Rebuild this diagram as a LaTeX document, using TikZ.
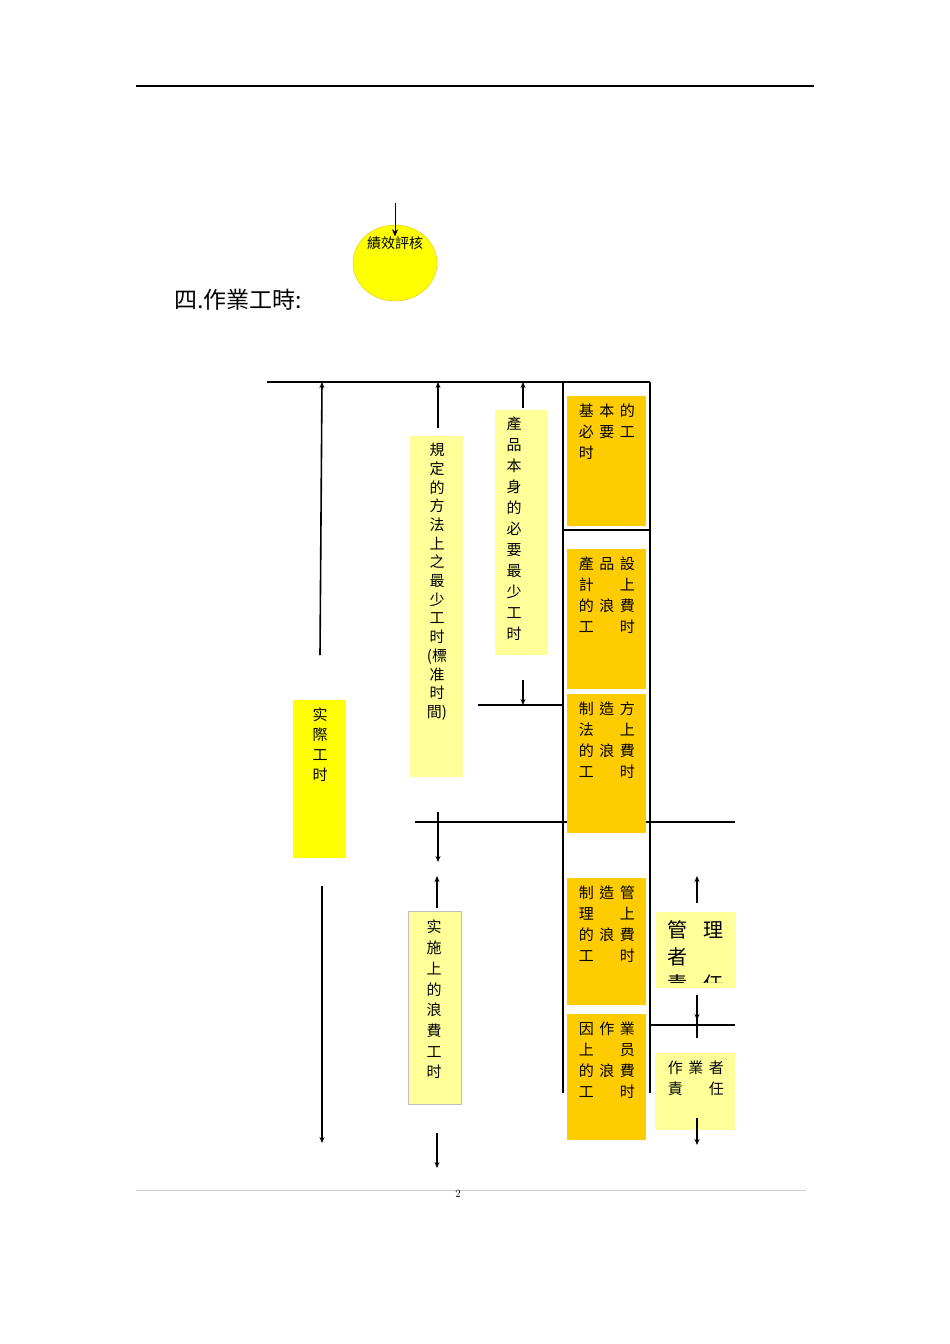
\documentclass[tikz,border=0pt]{standalone}
\usepackage{fontspec}
\newfontfamily\cjk{Noto Sans CJK TC}
\usetikzlibrary{arrows.meta,shapes.geometric}
\newcommand{\tc}[3]{\makebox[20.5pt]{#1}\makebox[20.5pt]{#2}\makebox[20.5pt]{#3}}
\tikzset{
  x=1pt,y=-1pt,
  orbox/.style={draw=none,fill={rgb,255:red,255;green,204;blue,0},anchor=north west,inner sep=0},
  lybox/.style={fill={rgb,255:red,255;green,255;blue,153},anchor=north west,inner sep=0},
  grid3/.style={anchor=north west,inner sep=0,align=left,font=\cjk\fontsize{15}{21}\selectfont},
  vtext/.style={anchor=north,inner sep=0,align=center,font=\cjk\fontsize{15}{#1}\selectfont},
  mline/.style={line width=2pt},
  arr/.style={line width=1.6pt,-{Stealth[length=6pt,width=5pt]}}
}
\begin{document}
\begin{tikzpicture}
\useasboundingbox (0,0) rectangle (950,1344);
\draw[line width=1.2pt] (136,86) -- (814,86);
\draw[gray!40,line width=0.8pt] (136,1190) -- (806,1190);
\node[font=\fontsize{11}{11}\selectfont] (pg) at (458,1194) {2};
% circle
\node[draw={rgb,255:red,220;green,200;blue,0},fill={rgb,255:red,255;green,255;blue,0},ellipse,minimum width=84,minimum height=76,inner sep=0] (circ) at (395,263) {};
\node[font=\cjk\fontsize{14}{14}\selectfont,inner sep=0] (ct) at (395,243) {績效評核};
\coordinate (ctop) at (395,203);
\draw[line width=0.6pt,-{Stealth[length=7pt,width=6pt]}] (ctop) -- (ct.north);
\node[font=\cjk\fontsize{23}{23}\selectfont,anchor=west,inner sep=0] (title) at (174,300) {四.作業工時:};
% frame lines
\coordinate (t0) at (267,382); \coordinate (t1) at (650,382);
\draw[mline] (t0) -- (t1);
\draw[mline] (563,382) -- (563,1093);
\draw[mline] (650,382) -- (650,1093);
\draw[mline] (563,530) -- (650,530);
\draw[mline] (478,705) -- (563,705);
\draw[mline] (415,822) -- (735,822);
\draw[mline] (650,1025) -- (735,1025);
% boxes
\node[orbox,minimum width=79,minimum height=130] (b1) at (567,396) {};
\node[orbox,minimum width=79,minimum height=140] (b2) at (567,549) {};
\node[orbox,minimum width=79,minimum height=139] (b3) at (567,694) {};
\node[orbox,minimum width=79,minimum height=127] (b4) at (567,878) {};
\node[orbox,minimum width=79,minimum height=126] (b5) at (567,1014) {};
\node[grid3] at (576,404) {\tc{基}{本}{的}\\\tc{必}{要}{工}\\\tc{时}{}{}};
\node[grid3] at (576,557) {\tc{產}{品}{設}\\\tc{計}{}{上}\\\tc{的}{浪}{費}\\\tc{工}{}{时}};
\node[grid3] at (576,702) {\tc{制}{造}{方}\\\tc{法}{}{上}\\\tc{的}{浪}{費}\\\tc{工}{}{时}};
\node[grid3] at (576,886) {\tc{制}{造}{管}\\\tc{理}{}{上}\\\tc{的}{浪}{費}\\\tc{工}{}{时}};
\node[grid3] at (576,1022) {\tc{因}{作}{業}\\\tc{上}{}{员}\\\tc{的}{浪}{費}\\\tc{工}{}{时}};
\node[lybox,minimum width=80,minimum height=76] (mg) at (656,912) {};
\begin{scope}
\clip (656,912) rectangle (736,982);
\node[anchor=north west,inner sep=0,align=left,font=\cjk\fontsize{20}{27}\selectfont] at (667,920) {\makebox[36pt][l]{管}理\\者\\\makebox[36pt][l]{責}任};
\end{scope}
\node[lybox,minimum width=80,minimum height=77] (wk) at (655,1053) {};
\node[grid3] at (665,1061) {\tc{作}{業}{者}\\\tc{責}{}{任}};
\node[lybox,fill={rgb,255:red,255;green,255;blue,0},minimum width=53,minimum height=158] (act) at (293,700) {};
\node[vtext=20] at (320,708) {实\\際\\工\\时};
\node[lybox,minimum width=53,minimum height=341] (std) at (410,436) {};
\node[vtext=18.7] at (437,443) {規\\定\\的\\方\\法\\上\\之\\最\\少\\工\\时\\(標\\准\\时\\間)};
\node[lybox,minimum width=53,minimum height=245] (prod) at (495,410) {};
\node[vtext=21] at (514,417) {產\\品\\本\\身\\的\\必\\要\\最\\少\\工\\时};
\node[lybox,draw=gray!50,line width=0.5pt,minimum width=53,minimum height=193] (impl) at (408,911) {};
\node[vtext=20.7] at (434,920) {实\\施\\上\\的\\浪\\費\\工\\时};
% arrows
\draw[arr] (320,655) -- (322,382);
\draw[arr] (322,886) -- (322,1143);
\draw[arr] (438,428) -- (438,382);
\draw[arr] (438,812) -- (438,862);
\draw[arr] (437,908) -- (437,876);
\draw[arr] (437,1133) -- (437,1168);
\draw[arr] (523,408) -- (523,382);
\draw[arr] (523,680) -- (523,705);
\draw[arr] (697,903) -- (697,876);
\draw[arr] (697,995) -- (697,1020);
\draw[line width=1.6pt] (697,1012) -- (697,1038);
\draw[arr] (697,1118) -- (697,1145);
\end{tikzpicture}
\end{document}
